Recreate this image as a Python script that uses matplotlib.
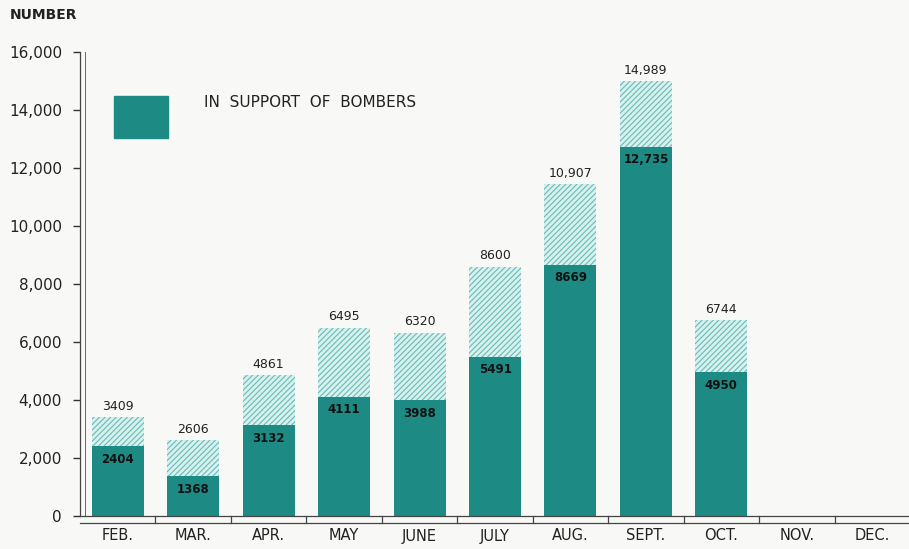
import matplotlib.pyplot as plt
import numpy as np

# months and sortie counts
months = ['FEB.', 'MAR.', 'APR.', 'MAY', 'JUNE', 'JULY', 'AUG.', 'SEPT.', 'OCT.', 'NOV.', 'DEC.']
support = [2404, 1368, 3132, 4111, 3988, 5491, 8669, 12735, 4950]
totals = [3409, 2606, 4861, 6495, 6320, 8600, 11450, 14989, 6744]
total_labels = ['3409', '2606', '4861', '6495', '6320', '8600', '10,907', '14,989', '6744']
support_labels = ['2404', '1368', '3132', '4111', '3988', '5491', '8669', '12,735', '4950']
yticks = [0, 2000, 4000, 6000, 8000, 10000, 12000, 14000, 16000]

dark = '#1d8b84'
light = '#d9f0ee'
hatch_col = '#62bdb6'
bg = '#f8f8f6'

plt.rcParams['font.family'] = ['DejaVu Sans']
plt.rcParams['hatch.linewidth'] = 0.8

fig = plt.figure(figsize=(9.09, 5.49), dpi=100, facecolor=bg)
ax = fig.add_axes([80 / 909, 33 / 549, 830 / 909, 464 / 549])
ax.set_facecolor(bg)

x = np.arange(len(support))
w = 0.69
ax.bar(x, totals, width=w, color=light, edgecolor=hatch_col, hatch='//////', linewidth=0)
ax.bar(x, support, width=w, color=dark, linewidth=0)

for i in range(len(support)):
    ax.text(x[i], totals[i] + 150, total_labels[i], ha='center', va='bottom', fontsize=9, color='#222222')
    ax.text(x[i], support[i] - 230, support_labels[i], ha='center', va='top', fontsize=8.5,
            fontweight='bold', color='#111111')

ax.set_xlim(-0.5, len(months) - 0.5)
ax.set_ylim(0, 16000)

ax.set_yticks(yticks)
ax.set_yticklabels([f'{v:,}' for v in yticks], fontsize=11, color='#222222')
ax.tick_params(axis='y', direction='out', length=5, width=1, pad=8, colors='#333333')
ax.tick_params(axis='y', labelcolor='#222222')

# month labels under the slots, boundary ticks on the axis band
ax.set_xticks(np.arange(len(months)))
ax.set_xticklabels(months, fontsize=10.5, color='#222222')
ax.tick_params(axis='x', length=0, pad=9)
for b in np.arange(-0.5, len(months), 1.0)[1:]:
    ax.plot([b, b], [0, -230], color='#444444', lw=0.9, clip_on=False)
ax.plot([-0.5, len(months) - 0.5], [-230, -230], color='#444444', lw=0.9, clip_on=False)

for s in ['top', 'right']:
    ax.spines[s].set_visible(False)
ax.spines['left'].set_color('#444444')
ax.spines['bottom'].set_color('#444444')
ax.spines['left'].set_linewidth(0.9)
ax.spines['bottom'].set_linewidth(0.9)
# second thin line of the double y axis
ax.plot([-0.44, -0.44], [0, 16000], color='#666666', lw=0.7, clip_on=False)

# legend box and text
ax.add_patch(plt.Rectangle((-0.05, 13050), 0.71, 1420, color=dark))
ax.text(1.15, 14250, 'IN  SUPPORT  OF  BOMBERS', fontsize=11, va='center', color='#222222')

fig.text(10 / 909, 1 - 15 / 549, 'NUMBER', fontsize=10, fontweight='bold', va='center', color='#222222')

plt.savefig('out.png', dpi=100, facecolor=bg)
